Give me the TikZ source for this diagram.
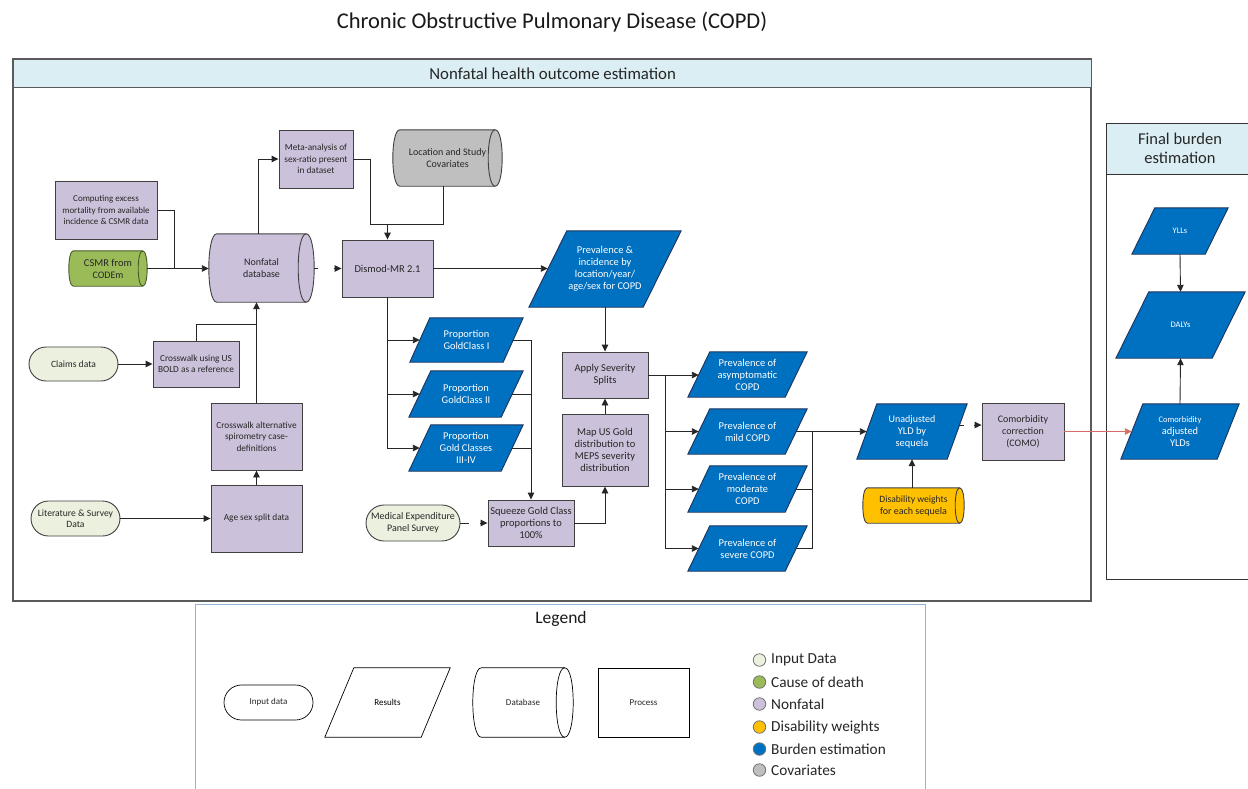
\documentclass[tikz,border=0pt]{standalone}
\usepackage{fontspec}
\setmainfont{Carlito}
\usetikzlibrary{shapes.geometric,shapes.misc,arrows.meta,calc}
\pgfdeclarelayer{background}
\pgfsetlayers{background,main}

\definecolor{lav}{RGB}{204,193,218}
\definecolor{lavline}{RGB}{64,64,64}
\definecolor{burden}{RGB}{0,112,192}
\definecolor{burdenline}{RGB}{28,52,92}
\definecolor{codgreen}{RGB}{155,187,89}
\definecolor{codline}{RGB}{70,90,40}
\definecolor{inputfill}{RGB}{236,241,223}
\definecolor{covgray}{RGB}{191,191,191}
\definecolor{dwyellow}{RGB}{255,192,0}
\definecolor{hdrfill}{RGB}{218,238,243}
\definecolor{comored}{RGB}{212,110,100}
\definecolor{legline}{RGB}{149,179,215}
\definecolor{frameline}{RGB}{90,90,90}

\newcommand\fsz[2]{\fontsize{#1}{#2}\selectfont}

% parallelogram: name, centre, top width, height, skew, style, text
\newcommand\para[7]{%
  \node[#6, minimum width=#3, minimum height=#4] (#1) at (#2) {#7};
  \begin{pgfonlayer}{background}
    \path[#6 shape] ([xshift=#5/2]#1.north west) -- ([xshift=#5/2]#1.north east)
      -- ([xshift=-#5/2]#1.south east) -- ([xshift=-#5/2]#1.south west) -- cycle;
  \end{pgfonlayer}
}

% horizontal cylinder: name, centre, length, diameter, cap radius, fill/draw options, text
\newcommand\cyl[7]{%
  \node[cyltext, minimum width=#3, minimum height=#4] (#1) at (#2) {#7};
  \begin{pgfonlayer}{background}
    \path[line width=0.9pt, #6]
      ([xshift=#5]#1.north west) -- ([xshift=-#5]#1.north east)
      .. controls ([xshift=#5/3]#1.north east) and ([xshift=#5/3]#1.south east) .. ([xshift=-#5]#1.south east)
      -- ([xshift=#5]#1.south west)
      .. controls ([xshift=-#5/3]#1.south west) and ([xshift=-#5/3]#1.north west) .. ([xshift=#5]#1.north west)
      -- cycle;
    \draw[line width=0.9pt, #6, fill=none]
      ([xshift=-#5]#1.north east)
      .. controls ([xshift=-7*#5/3]#1.north east) and ([xshift=-7*#5/3]#1.south east) .. ([xshift=-#5]#1.south east);
  \end{pgfonlayer}
}

\tikzset{
  proc/.style={rectangle, draw=lavline, fill=lav, line width=0.9pt, align=center,
    inner sep=1pt, text=black!85, font=\fsz{9.3}{11.4}},
  inputd/.style={rounded rectangle, draw=lavline, fill=inputfill, line width=0.9pt,
    align=center, inner sep=1pt, text=black!85, font=\fsz{9.6}{11.4}},
  cyltext/.style={rectangle, draw=none, align=center, inner sep=1pt, text=black!85,
    font=\fsz{10}{12}},
  res/.style={rectangle, draw=none, align=center, inner sep=1pt, text=white,
    font=\fsz{10.4}{12}},
  res shape/.style={fill=burden, draw=burdenline, line width=0.9pt},
  legpara/.style={rectangle, draw=none, align=center, inner sep=1pt, text=black,
    font=\fsz{9}{11}},
  legpara shape/.style={fill=white, draw=black, line width=0.7pt},
  conn/.style={draw=black!85, line width=0.9pt},
  arr/.style={conn, -{Triangle[length=7pt,width=6.5pt]}},
  legdot/.style={circle, draw=black!55, line width=0.8pt, minimum size=12.5pt, inner sep=0pt},
  legtext/.style={anchor=west, inner sep=0pt, font=\fsz{15.3}{17}, text=black!85},
}

\begin{document}
\begin{tikzpicture}[x=1pt,y=-1pt]
\useasboundingbox (0,0) rectangle (1248,788);
\clip (0,0) rectangle (1248,788);

% title
\node[font=\fsz{22.5}{26}, text=black!90] (title) at (552,22) {Chronic Obstructive Pulmonary Disease (COPD)};

% frames
\draw[frameline, line width=1.3pt] (13,59) rectangle (1091,601);
\node[draw=frameline, line width=1.3pt, fill=hdrfill, anchor=north west,
  minimum width=1078, minimum height=28, inner sep=0pt, font=\fsz{16.8}{19}, text=black!85]
  (nfhdr) at (13,59) {Nonfatal health outcome estimation};

\draw[black!80, line width=0.9pt] (1106,123) rectangle (1262,579);
\draw[black!80, line width=0.9pt, fill=hdrfill] (1106,123) rectangle (1262,174);
\node[align=center, font=\fsz{16.5}{18.5}, text=black!85] (fbhdr) at (1180,148.5) {Final burden\\estimation};

\draw[legline, line width=1pt] (195,604) rectangle (925,800);
\node[font=\fsz{17.5}{20}, text=black!90] (legtitle) at (561,618.5) {Legend};

% nonfatal processing chain
\node[proc, minimum width=102, minimum height=58, font=\fsz{9}{11.4}] (comp) at (106,210)
  {Computing excess\\mortality from available\\incidence \& CSMR data};
\cyl{csmr}{108,268.5}{78}{35}{4.5}{fill=codgreen, draw=codline}{\fsz{10.5}{12}CSMR from\\CODEm}
\cyl{nfdb}{261.5,268}{105}{68}{8}{fill=lav, draw=lavline}{Nonfatal\\database}
\node[proc, minimum width=74, minimum height=58] (meta) at (316,159)
  {Meta-analysis of\\sex-ratio present\\in dataset};
\cyl{cov}{447.5,158}{109}{56}{7}{fill=covgray, draw=lavline}{Location and Study\\Covariates}
\node[proc, minimum width=91, minimum height=57, font=\fsz{10.5}{12}] (dismod) at (387.5,268.5) {Dismod-MR 2.1};

\node[inputd, minimum width=91, minimum height=34] (claims) at (73.5,364) {Claims data};
\node[proc, minimum width=86, minimum height=46] (cwus) at (196,364) {Crosswalk using US\\BOLD as a reference};
\node[proc, minimum width=91, minimum height=67] (cwalt) at (256.5,436.5)
  {Crosswalk alternative\\spirometry case-\\definitions};
\node[proc, minimum width=91, minimum height=67] (agesex) at (256.5,518.5) {Age sex split data};
\node[inputd, minimum width=91, minimum height=35] (lit) at (75.5,518.5) {Literature \& Survey\\Data};

% results
\para{previnc}{605,269}{114}{76}{38}{res}{\fsz{10.5}{12}Prevalence \&\\incidence by\\location/year/\\age/sex for COPD}
\para{gc1}{466.5,340}{93}{44}{20}{res}{Proportion\\GoldClass I}
\para{gc2}{466,394}{92}{46}{22}{res}{Proportion\\GoldClass II}
\para{gc3}{466,448}{92}{46}{22}{res}{Proportion\\Gold Classes\\III-IV}

\node[proc, minimum width=86, minimum height=46, font=\fsz{10.5}{12}] (apply) at (605,375) {Apply Severity\\Splits};
\node[proc, minimum width=86, minimum height=72, font=\fsz{10.5}{12}] (mapus) at (605,450)
  {Map US Gold\\distribution to\\MEPS severity\\distribution};
\node[proc, minimum width=86, minimum height=46, font=\fsz{10.5}{12}] (squeeze) at (531,523)
  {Squeeze Gold Class\\proportions to\\100\%};
\node[inputd, minimum width=96, minimum height=36, font=\fsz{10}{12}] (meps) at (413,523)
  {Medical Expenditure\\Panel Survey};

\para{asym}{747.5,374.5}{97}{45}{22}{res}{\fsz{10.5}{11.5}Prevalence of\\asymptomatic\\COPD}
\para{mild}{747.5,431.5}{97}{45}{22}{res}{\fsz{10.5}{12}Prevalence of\\mild COPD}
\para{mod}{747.5,489}{97}{46}{22}{res}{\fsz{10.5}{11.5}Prevalence of\\moderate\\COPD}
\para{sev}{747.5,548.5}{97}{45}{22}{res}{\fsz{10.5}{12}Prevalence of\\severe COPD}

\para{unadj}{912,431.5}{90}{55}{20}{res}{\fsz{10}{12}Unadjusted\\YLD by\\sequela}
\node[proc, minimum width=82, minimum height=57, font=\fsz{10}{12.2}] (como) at (1023,431.5)
  {Comorbidity\\correction\\(COMO)};
\cyl{dw}{913.5,505.5}{101}{35}{4.5}{fill=dwyellow, draw=lavline}{\fsz{9.6}{11.5}Disability weights\\for each sequela}

% final burden
\para{ylls}{1180,231}{73}{46}{23}{res}{\fsz{8.5}{10}YLLs}
\para{dalys}{1180.5,325}{96}{66}{33}{res}{\fsz{8.5}{10}DALYs}
\para{adjylds}{1180,431.5}{96}{55}{22}{res}{\fsz{8.5}{11}Comorbidity\\adjusted\\YLDs}

% connectors
\coordinate (j1) at (387.5,224);
\draw[conn] (meta.east) -| (370,224) -- (j1);
\draw[conn] ([xshift=-4]cov.south) |- (j1);
\draw[arr] (j1) -- (dismod.north);
\draw[arr] ([xshift=-3.5]nfdb.north) |- (meta.west);
\draw[arr] (csmr.east) -- (csmr.east -| nfdb.west);
\draw[conn] (comp.east) -| (174,268.5);
% broken connector: short stub at the source, lone tip at the target
\draw[conn] (nfdb.east) -- ++(4,0);
\draw[arr] ([xshift=-8]dismod.west) -- (dismod.west);
\draw[arr] (cwalt.north) -- (cwalt.north |- nfdb.south);
\draw[conn] (cwus.north) |- (cwalt.north |- 0,324);
\draw[arr] (claims.east) -- (cwus.west);
\draw[arr] (lit.east) -- (agesex.west);
\draw[arr] (agesex.north) -- (cwalt.south);

\draw[arr] (dismod.east) -- (dismod.east -| previnc.west);
\draw[arr] (dismod.south) |- (gc1.west);
\draw[arr] (dismod.south) |- (gc2.west);
\draw[arr] (dismod.south) |- (gc3.west);
\draw[arr] (gc1.east) -| (squeeze.north);
\draw[conn] (gc2.east) -- (gc2.east -| squeeze.north);
\draw[conn] (gc3.east) -- (gc3.east -| squeeze.north);
\draw[conn] (meps.east) -- ++(9,0);
\draw[arr] ([xshift=-8]squeeze.west) -- (squeeze.west);
\draw[arr] (squeeze.east) -| (mapus.south);
\draw[arr] (mapus.north) -- (apply.south);
\draw[arr] (previnc.south) -- (apply.north);

\draw[arr] (apply.east) -- (apply.east -| asym.west);
\coordinate (j2) at (665,375);
\draw[arr] (j2) |- (mild.west);
\draw[arr] (j2) |- (mod.west);
\draw[arr] (j2) |- (sev.west);

\draw[arr] (mild.east) -- (unadj.west);
\coordinate (j3) at (812,431.5);
\draw[conn] (mod.east) -| (j3);
\draw[conn] (sev.east) -| (j3);
\draw[conn] ([shift={(2,-6.5)}]unadj.east) -- ++(5,0);
\draw[arr] ([xshift=-8]como.west |- 0,425) -- (como.west |- 0,425);
\draw[arr] ([xshift=-1.5]dw.north) -- ([xshift=-1.5]dw.north |- unadj.south);
\draw[conn, draw=comored, -{Triangle[length=7pt,width=6.5pt]}] (como.east) -- (adjylds.west);

\draw[arr] (ylls.south) -- (dalys.north);
\draw[arr] (adjylds.north) -- (dalys.south);

% legend shapes
\node[inputd, fill=white, draw=black, line width=0.7pt, minimum width=91, minimum height=35,
  font=\fsz{9}{11}] (lin) at (268.5,702.5) {Input data};
\para{lres}{387.5,702.5}{96}{69}{29}{legpara}{Results}
\cyl{ldb}{523,702.5}{100}{69}{8.5}{fill=white, draw=black, line width=0.7pt}{\fsz{9}{11}Database}
\node[proc, fill=white, draw=black, line width=0.7pt, minimum width=91, minimum height=69,
  font=\fsz{9}{11}] (lproc) at (643.5,702.5) {Process};

% legend colour key
\node[legdot, fill=inputfill] (k1) at (759.5,660) {};
\node[legtext] (t1) at (771,660) {Input Data};
\node[legdot, fill=codgreen] (k2) at (759.5,682) {};
\node[legtext] (t2) at (771,682) {Cause of death};
\node[legdot, fill=lav] (k3) at (759.5,704) {};
\node[legtext] (t3) at (771,704) {Nonfatal};
\node[legdot, fill=dwyellow] (k4) at (759.5,727) {};
\node[legtext] (t4) at (771,727) {Disability weights};
\node[legdot, fill=burden] (k5) at (759.5,749) {};
\node[legtext] (t5) at (771,749) {Burden estimation};
\node[legdot, fill=covgray] (k6) at (759.5,770) {};
\node[legtext] (t6) at (771,770) {Covariates};
\end{tikzpicture}
\end{document}
